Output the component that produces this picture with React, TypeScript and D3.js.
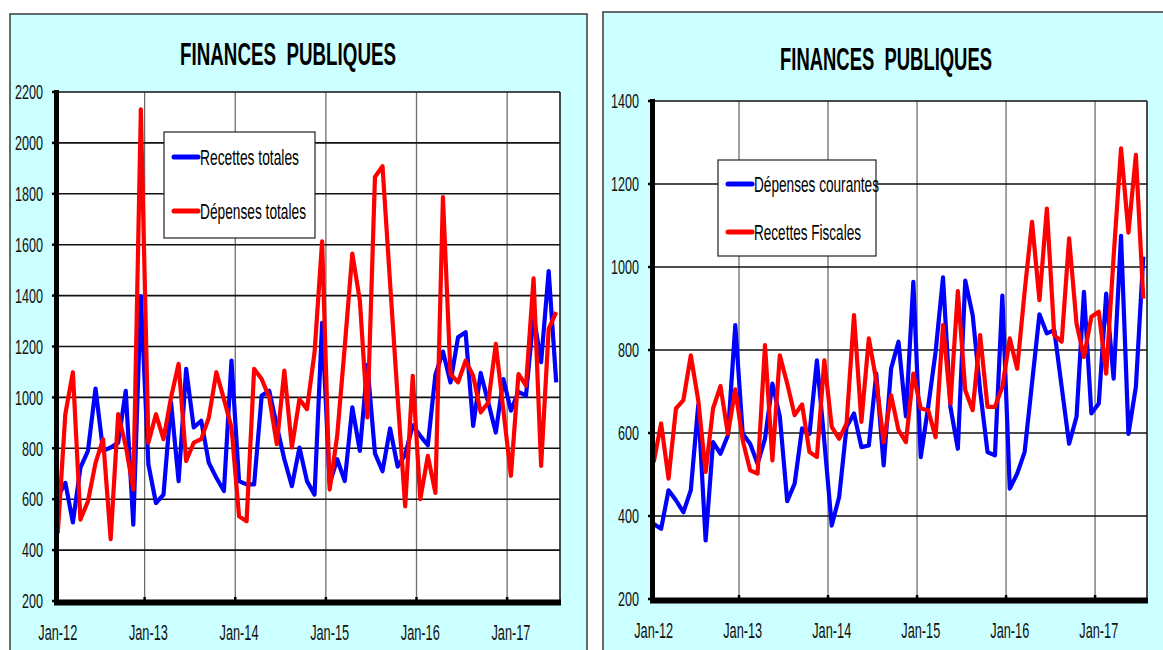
import React from 'react';
import * as d3 from 'd3';

// monthly series, Jan-12 .. Jul-17 (67 months)
const yearTicks = ['Jan-12', 'Jan-13', 'Jan-14', 'Jan-15', 'Jan-16', 'Jan-17'];

const leftYTicks = [200, 400, 600, 800, 1000, 1200, 1400, 1600, 1800, 2000, 2200];
const rightYTicks = [200, 400, 600, 800, 1000, 1200, 1400];

const recettesTotales = [
  610, 664, 509, 724, 790, 1035, 790, 803, 822, 1026, 500, 1398,
  737, 585, 618, 980, 671, 1112, 882, 908, 743, 684, 632, 1145,
  671, 658, 658, 1007, 1026, 888, 757, 651, 803, 671, 618, 1293,
  660, 757, 671, 961, 790, 1128, 780, 710, 878, 728, 775, 890,
  849, 812, 1088, 1180, 1059, 1236, 1256, 888, 1096, 980, 862, 1072,
  948, 1022, 1007, 1321, 1138, 1496, 1059,
];

const depensesTotales = [
  467, 934, 1099, 520, 592, 743, 836, 443, 934, 809, 638, 2132,
  822, 934, 836, 1000, 1132, 750, 822, 836, 921, 1099, 993, 882,
  533, 513, 1112, 1072, 1000, 816, 1105, 803, 993, 954, 1177, 1613,
  638, 850, 1200, 1565, 1380, 921, 1866, 1908, 1450, 1000, 572, 1085,
  600, 770, 625, 1787, 1092, 1059, 1144, 1085, 941, 980, 1210, 950,
  692, 1092, 1046, 1468, 731, 1269, 1335,
];

const depensesCourantes = [
  381, 369, 462, 438, 409, 462, 667, 341, 578, 550, 594, 860,
  598, 574, 526, 586, 719, 640, 436, 478, 611, 598, 775, 580,
  377, 446, 615, 647, 566, 570, 743, 522, 755, 820, 640, 964,
  542, 663, 795, 975, 663, 562, 967, 884, 703, 554, 546, 931,
  466, 502, 554, 720, 886, 840, 848, 711, 574, 639, 940, 647,
  671, 936, 731, 1075, 598, 711, 1025,
];

const recettesFiscales = [
  530, 623, 490, 659, 679, 787, 679, 506, 659, 713, 598, 705,
  582, 510, 502, 812, 534, 787, 719, 643, 669, 554, 542, 775,
  615, 586, 623, 884, 627, 828, 727, 578, 691, 607, 578, 743,
  659, 655, 590, 860, 671, 942, 703, 655, 836, 663, 663, 711,
  828, 755, 940, 1109, 920, 1141, 836, 820, 1069, 864, 783, 880,
  892, 743, 1025, 1286, 1083, 1270, 924,
];

const FONT = "'Liberation Sans Narrow', 'Arial Narrow', 'Liberation Sans', Arial, sans-serif";

interface LegendCfg {
  x: number; y: number; w: number; h: number;
  row1: number; row2: number;
  tw1: number; tw2: number;
}

interface PanelProps {
  px: number; py: number; pw: number; ph: number;
  left: number; right: number; top: number; bottom: number;
  yTicks: number[];
  blue: number[]; red: number[];
  blueLabel: string; redLabel: string;
  titleX: number; titleY: number; titleW: number;
  legend: LegendCfg;
}

function Panel(p: PanelProps) {
  const n = p.blue.length;
  const x = d3.scaleLinear().domain([-0.5, n - 0.5]).range([p.left, p.right]);
  const y = d3.scaleLinear()
    .domain([p.yTicks[0], p.yTicks[p.yTicks.length - 1]])
    .range([p.bottom, p.top]);
  const line = d3.line<number>().x((_, i) => x(i)).y(d => y(d));
  const gridIdx = yearTicks.slice(1).map((_, k) => (k + 1) * 12 - 0.5);
  const lg = p.legend;

  return (
    <g fontFamily={FONT}>
      <rect x={p.px} y={p.py} width={p.pw} height={p.ph} fill="#CCFFFF" stroke="#3a3a3a" strokeWidth={1.5} />
      <text x={p.titleX} y={p.titleY} textAnchor="middle" fontSize={31} fontWeight="bold"
        textLength={p.titleW} lengthAdjust="spacingAndGlyphs" fill="#000">
        {'FINANCES\u00a0\u00a0PUBLIQUES'}
      </text>

      <rect x={p.left} y={p.top} width={p.right - p.left} height={p.bottom - p.top} fill="#fff" />
      {gridIdx.map(v => (
        <line key={'v' + v} x1={x(v)} x2={x(v)} y1={p.top} y2={p.bottom} stroke="#6e6e6e" strokeWidth={1.3} />
      ))}
      {p.yTicks.slice(1).map(t => (
        <line key={'h' + t} x1={p.left} x2={p.right} y1={y(t)} y2={y(t)} stroke="#111" strokeWidth={1.6} />
      ))}
      <line x1={p.right} x2={p.right} y1={p.top} y2={p.bottom} stroke="#111" strokeWidth={1.5} />

      {/* tick marks */}
      {gridIdx.map(v => (
        <line key={'xt' + v} x1={x(v)} x2={x(v)} y1={p.bottom - 4} y2={p.bottom} stroke="#000" strokeWidth={2.5} />
      ))}
      {p.yTicks.map(t => (
        <line key={'yt' + t} x1={p.left - 2} x2={p.left + 3} y1={y(t)} y2={y(t)} stroke="#000" strokeWidth={2.5} />
      ))}

      <path d={line(p.blue) || ''} fill="none" stroke="#0000FF" strokeWidth={4.2} strokeLinejoin="round" />
      <path d={line(p.red) || ''} fill="none" stroke="#FF0000" strokeWidth={4.2} strokeLinejoin="round" />

      {/* axes */}
      <line x1={p.left + 2.5} x2={p.left + 2.5} y1={p.top - 2} y2={p.bottom + 4} stroke="#000" strokeWidth={5} />
      <line x1={p.left} x2={p.right + 1} y1={p.bottom + 1.5} y2={p.bottom + 1.5} stroke="#000" strokeWidth={6} />

      {p.yTicks.map(t => (
        <text key={'yl' + t} x={p.left - 11} y={y(t)} dy="0.36em" textAnchor="end" fontSize={20}
          textLength={String(t).length * 7} lengthAdjust="spacingAndGlyphs" fill="#111">
          {t}
        </text>
      ))}
      {yearTicks.map((lab, k) => (
        <text key={lab} x={x(k * 12)} y={p.bottom + 39} textAnchor="middle" fontSize={22}
          textLength={39} lengthAdjust="spacingAndGlyphs" fill="#111">
          {lab}
        </text>
      ))}

      {/* legend */}
      <rect x={lg.x} y={lg.y} width={lg.w} height={lg.h} fill="#fff" stroke="#222" strokeWidth={1.2} />
      <line x1={lg.x + 10} x2={lg.x + 34} y1={lg.row1} y2={lg.row1} stroke="#0000FF" strokeWidth={5} strokeLinecap="round" />
      <line x1={lg.x + 10} x2={lg.x + 34} y1={lg.row2} y2={lg.row2} stroke="#FF0000" strokeWidth={5} strokeLinecap="round" />
      <text x={lg.x + 36} y={lg.row1} dy="0.36em" fontSize={22} textLength={lg.tw1} lengthAdjust="spacingAndGlyphs" fill="#000">
        {p.blueLabel}
      </text>
      <text x={lg.x + 36} y={lg.row2} dy="0.36em" fontSize={22} textLength={lg.tw2} lengthAdjust="spacingAndGlyphs" fill="#000">
        {p.redLabel}
      </text>
    </g>
  );
}

export default function App() {
  return (
    <svg width={1163} height={650} style={{ position: 'absolute', left: 0, top: 0, background: '#fff' }}>
      <Panel
        px={10} py={14} pw={577} ph={650}
        left={54} right={560} top={92} bottom={601}
        yTicks={leftYTicks}
        blue={recettesTotales} red={depensesTotales}
        blueLabel="Recettes totales" redLabel="Dépenses totales"
        titleX={288} titleY={65} titleW={216}
        legend={{ x: 164, y: 132, w: 151, h: 106, row1: 157, row2: 211, tw1: 99, tw2: 106 }}
      />
      <Panel
        px={603} py={12} pw={580} ph={650}
        left={650} right={1147} top={101} bottom={599}
        yTicks={rightYTicks}
        blue={depensesCourantes} red={recettesFiscales}
        blueLabel="Dépenses courantes" redLabel="Recettes Fiscales"
        titleX={886} titleY={70} titleW={212}
        legend={{ x: 718, y: 160, w: 158, h: 96, row1: 184, row2: 232, tw1: 125, tw2: 107 }}
      />
    </svg>
  );
}
